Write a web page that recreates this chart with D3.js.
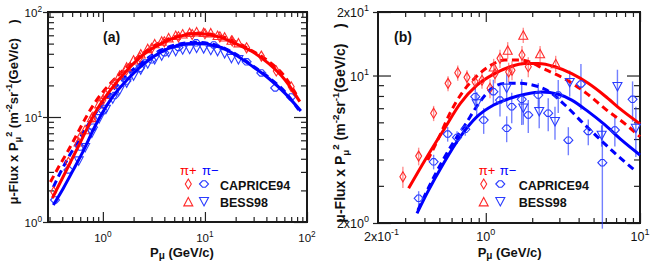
<!DOCTYPE html>
<html><head><meta charset="utf-8">
<script src="https://cdn.jsdelivr.net/npm/d3@7"></script>
<style>body{margin:0;background:#fff}svg{display:block}</style>
</head><body><svg id="c" width="654" height="261"></svg>
<script>
// ---------- Panel (a) model curves ----------
const aPosSolidP = [0.32,0.38,0.48,0.6,0.84,1.2,1.76,2.56,3.7,5.4,8.1,13.7,20,29,42,61,85];
const aPosSolidF = [1.69,2.35,3.7,5.7,11.0,18.3,28.5,40,50,58,62.5,58,50,42,32.4,22.5,14];
const aNegSolidP = [0.327,0.41,0.51,0.64,0.84,1.2,1.76,2.56,3.7,5.4,8.1,13.7,20,29,42,61,87];
const aNegSolidF = [1.45,2.1,3.1,4.7,8.2,14.8,23,32.5,41.5,48,50.3,46.7,39,30.5,23.4,16.8,11.4];
const aPosDashP = [0.306,0.366,0.447,0.547,0.67,0.84,1.22,1.75,2.56,3.74,5.6,8.2,13.7,20,28.6,41.8,61,81];
const aPosDashF = [2.4,3.3,4.6,6.6,9.6,13.8,21.5,30.5,41.5,52,59.5,63,59.5,52,43,34,24,15.5];
const aNegDashP = [0.327,0.383,0.458,0.56,0.715,0.935,1.22,1.75,2.56,3.74,5.6,8.2,13.7,20,28.6,41.8,61,83];
const aNegDashF = [2.15,2.95,4.1,5.7,8.4,12.5,17.5,25.5,34.5,43.5,49.5,51.5,47.3,39.8,31.3,24,17.3,11.7];
// ---------- Panel (a) data ----------
const aPosCapP = [0.33,0.46,0.6,0.8,1.0,1.3,1.7,2.3,3.0,4.0,5.5,7.5,10,14,18.5,25.6,35.7,50,70];
const aPosCapF = [1.94,3.7,6.4,10,14.5,21,28,37,45,52,58,61,62,58,53,45.6,38,27.4,19.4];
const aNegCapP = [0.34,0.46,0.6,0.8,1.0,1.3,1.7,2.3,3.0,4.0,5.5,8.2,12.2,25.6,35.7,48.8,69.8];
const aNegCapF = [1.62,3.13,5.18,8.0,11.5,16,22,29,35,41,46,50.9,48.6,33.5,26.3,18.9,15.5];
const aBessP = [0.58,0.67,0.78,0.92,1.07,1.25,1.46,1.71,2.0,2.35,2.75,3.22,3.77,4.41,5.17,6.05,7.08,8.29,9.71,11.4,13.3,15.6,18.2,21.3];
const aPosBessF = [5.8,7.6,9.9,13.4,16.5,20.5,25,30,35,40,45,50,53,57,60,62,64,65,64,63.5,60,58,54,51];
const aNegBessF = [3.8,5.1,7.0,9.6,11.8,14.8,18,21,24.5,28,32,35,38,41,42,43.5,44,45,44.5,43,42,40,36,35];
// ---------- Panel (b) model curves ----------
const bPosSolidP = [0.316,0.416,0.533,0.684,0.877,1.125,1.44,1.80,2.19,2.81,3.61,4.62,5.93,7.61,10];
const bPosSolidF = [2.92,4.12,5.52,7.38,9.0,10.15,11.0,11.4,11.4,11.0,10.2,9.18,8.0,6.85,5.9];
const bNegSolidP = [0.358,0.416,0.533,0.684,0.877,1.125,1.44,1.80,2.30,2.95,3.61,4.62,5.93,7.61,10];
const bNegSolidF = [2.22,2.77,3.84,5.13,6.38,7.25,7.8,8.15,8.35,8.15,7.65,6.74,5.83,4.94,4.20];
const bPosDashP = [0.42,0.505,0.586,0.70,0.85,1.06,1.33,1.67,2.48,3.35,4.5,6.08,8.19,10];
const bPosDashF = [3.97,5.22,6.63,8.26,9.73,11.1,11.85,11.85,10.6,9.52,8.23,6.86,5.82,5.13];
const bNegDashP = [0.363,0.434,0.528,0.631,0.733,0.877,1.065,1.33,1.67,2.03,2.48,3.26,4.28,5.25,6.38,7.8,9.5];
const bNegDashF = [2.30,3.03,3.98,4.95,5.83,7.17,8.54,9.18,9.18,9.0,8.54,7.25,5.94,5.15,4.5,3.95,3.5];
// ---------- Panel (b) data (value, +/- error) ----------
const bPosCapP = [0.290,0.367,0.459,0.569,0.658,0.755,0.851,0.945,1.065,1.147,1.236,1.407,1.479,1.717,1.886];
const bPosCapF = [3.31,4.15,6.63,9.18,10.3,9.8,9.35,9.5,8.7,10.2,12.06,10.4,10.6,12.5,11.0];
const bPosCapE = [0.38,0.4,0.55,0.75,0.85,0.8,0.8,0.85,0.9,1.0,1.2,1.1,1.1,1.3,1.2];
const bPosBessP = [1.125,1.387,1.75,2.25,2.84];
const bPosBessF = [11.0,13.2,15.56,12.7,11.4];
const bPosBessE = [1.0,1.2,1.3,1.1,1.0];
const bNegCapP = [0.367,0.459,0.566,0.651,0.736,0.855,0.969,1.12,1.236,1.366,1.473,1.71,1.886,2.19,2.54,2.95,3.43,4.14,4.62,5.70,6.87,8.95];
const bNegCapF = [2.62,3.90,5.28,5.09,5.56,7.94,6.15,8.38,7.65,5.62,7.11,7.71,6.5,8.08,6.63,8.08,4.94,9.12,5.43,3.86,5.52,7.71];
const bNegCapE = [0.21,0.31,0.42,0.35,0.38,0.91,0.86,1.17,1.26,0.79,1.17,1.88,1.16,1.13,1.18,1.44,0.75,2.23,0.76,1.98,0.91,1.67];
const bNegBessP = [0.873,1.366,1.75,2.22,2.81,3.5,5.64,7.14,9.4];
const bNegBessF = [7.33,8.7,7.0,6.74,6.04,9.25,5.2,8.85,5.61];
const bNegBessE = [1.03,1.55,1.16,1.11,1.08,1.3,0.6,1.8,1.5];
// ---------- ticks ----------
const aXMajor = [1,10,100], aXMinor = [0.3,0.4,0.5,0.6,0.7,0.8,0.9,2,3,4,5,6,7,8,9,20,30,40,50,60,70,80,90];
const aYMajor = [1,10,100], aYMinor = [2,3,4,5,6,7,8,9,20,30,40,50,60,70,80,90];
const aXLabels = [["10","0"],["10","1"],["10","2"]];
const aYLabels = [["10","0"],["10","1"],["10","2"]];
const bXMajor = [1,10], bXMinor = [0.3,0.4,0.5,0.6,0.7,0.8,0.9,2,3,4,5,6,7,8,9];
const bYMajor = [2,10,20], bYMinor = [3,4,5,6,7,8,9];
const bXLabels = [["2x10","-1"],["10","0"],["10","1"]];
const bXLabelVals = [0.2,1,10];
const bYLabels = [["2x10","0"],["10","1"],["2x10","1"]];
const legendSeries = ["CAPRICE94","BESS98"];

const FONT = "'Liberation Sans', Arial, Helvetica, sans-serif";
const RED = "#ff0000", BLUE = "#0000ff";
const RMK = "#ff2a2a", BMK = "#2a3cff";
const svg = d3.select("#c");

const xA = d3.scaleLog().domain([0.29,100]).range([48,307]);
const yA = d3.scaleLog().domain([1,100]).range([222,12]);
const xB = d3.scaleLog().domain([0.2,10]).range([378,640]);
const yB = d3.scaleLog().domain([2,20]).range([223,12]);

function sym(type, cx, cy){
  if(type==="rdiam"){const w=3,h=5;return `M${cx},${cy-h}L${cx+w},${cy}L${cx},${cy+h}L${cx-w},${cy}Z`;}
  if(type==="bdiam"){const w=4.5,h=3.2;return `M${cx-w},${cy}L${cx-1.5},${cy-h}L${cx+1.5},${cy-h}L${cx+w},${cy}L${cx+1.5},${cy+h}L${cx-1.5},${cy+h}Z`;}
  if(type==="up"){const w=4.5,h=4.2;return `M${cx},${cy-h}L${cx+w},${cy+h}L${cx-w},${cy+h}Z`;}
  if(type==="down"){const w=4.5,h=4.2;return `M${cx},${cy+h}L${cx+w},${cy-h}L${cx-w},${cy-h}Z`;}
}

function axes(x,y,xMaj,xMin,yMaj,yMin){
  const [L,R]=x.range(), [B,T]=y.range();
  const g=svg.append("g").attr("color","#222");
  const add=(axis,tr)=>g.append("g").attr("transform",tr).call(axis).call(s=>{s.select(".domain").remove();s.selectAll("text").remove();s.selectAll("line").attr("stroke-width",1.2);});
  add(d3.axisRight(y).tickValues(yMaj).tickSize(13).tickSizeOuter(0),`translate(${L},0)`);
  add(d3.axisRight(y).tickValues(yMin).tickSize(6).tickSizeOuter(0),`translate(${L},0)`);
  add(d3.axisLeft(y).tickValues(yMaj).tickSize(5).tickSizeOuter(0),`translate(${L},0)`);
  add(d3.axisLeft(y).tickValues(yMaj).tickSize(13).tickSizeOuter(0),`translate(${R},0)`);
  add(d3.axisLeft(y).tickValues(yMin).tickSize(6).tickSizeOuter(0),`translate(${R},0)`);
  add(d3.axisTop(x).tickValues(xMaj).tickSize(10).tickSizeOuter(0),`translate(0,${B})`);
  add(d3.axisTop(x).tickValues(xMin).tickSize(5).tickSizeOuter(0),`translate(0,${B})`);
  add(d3.axisBottom(x).tickValues(xMaj).tickSize(10).tickSizeOuter(0),`translate(0,${T})`);
  add(d3.axisBottom(x).tickValues(xMin).tickSize(5).tickSizeOuter(0),`translate(0,${T})`);
  svg.append("rect").attr("x",L).attr("y",T).attr("width",R-L).attr("height",B-T)
    .attr("fill","none").attr("stroke","#1a1a1a").attr("stroke-width",2);
}

function supLabel(x,y,lab,size,anchor){
  const t=svg.append("text").attr("x",x).attr("y",y).attr("font-family",FONT).attr("font-size",size)
    .attr("text-anchor",anchor).attr("fill","#111");
  t.append("tspan").text(lab[0]);
  t.append("tspan").attr("dy",-size*0.45).attr("font-size",size*0.72).text(lab[1]);
}

function curve(x,y,P,F,color,dash){
  const line=d3.line().x(d=>x(d[0])).y(d=>y(d[1])).curve(d3.curveMonotoneX);
  const p=svg.append("path").attr("d",line(d3.zip(P,F))).attr("fill","none")
    .attr("stroke",color).attr("stroke-width",3);
  if(dash) p.attr("stroke-dasharray","7,4.5");
}
function marks(x,y,P,F,type,color){
  svg.append("g").selectAll("path").data(d3.zip(P,F)).join("path")
    .attr("d",d=>sym(type,x(d[0]),y(d[1]))).attr("fill","none").attr("stroke",color).attr("stroke-width",1.1);
}
function errs(x,y,P,F,E,color){
  svg.append("g").selectAll("line").data(d3.zip(P,F,E)).join("line")
    .attr("x1",d=>x(d[0])).attr("x2",d=>x(d[0]))
    .attr("y1",d=>y(d[1]+d[2])).attr("y2",d=>y(Math.max(d[1]-d[2],1e-3)))
    .attr("stroke",color).attr("stroke-width",1.4);
}

function yTitle(tx,ty,size){
  const t=svg.append("text").attr("transform",`translate(${tx},${ty}) rotate(-90)`)
    .attr("text-anchor","middle").attr("font-family",FONT).attr("font-weight","bold")
    .attr("font-size",size).attr("fill","#111");
  const s=size*0.7;
  t.append("tspan").text("μ-Flux x P");
  t.append("tspan").attr("dy",size*0.25).attr("font-size",s).text("μ");
  t.append("tspan").attr("dy",-size*0.7).attr("font-size",s).text("2");
  t.append("tspan").attr("dy",size*0.45).text(" (m");
  t.append("tspan").attr("dy",-size*0.45).attr("font-size",s).text("-2");
  t.append("tspan").attr("dy",size*0.45).text("sr");
  t.append("tspan").attr("dy",-size*0.45).attr("font-size",s).text("-1");
  t.append("tspan").attr("dy",size*0.45).text("(GeV/c)\u00a0\u00a0\u00a0\u00a0)");
}
function xTitle(tx,ty){
  const t=svg.append("text").attr("x",tx).attr("y",ty).attr("font-family",FONT).attr("font-weight","bold")
    .attr("font-size",13).attr("fill","#111");
  t.append("tspan").text("P");
  t.append("tspan").attr("dy",1.5).attr("font-size",10).text("μ");
  t.append("tspan").attr("dy",-1.5).text("\u00a0(GeV/c)");
}
function legend(px,py,dx1,dx2,tx){
  svg.append("text").attr("x",px).attr("y",py).attr("font-family",FONT).attr("font-size",13).attr("fill",RED).text("π+");
  svg.append("text").attr("x",px+dx1).attr("y",py).attr("font-family",FONT).attr("font-size",13).attr("fill",BLUE).text("π−");
  const rows=[[py+9,"rdiam","bdiam"],[py+26.7,"up","down"]];
  rows.forEach((r,i)=>{
    svg.append("path").attr("d",sym(r[1],px+dx2[0],r[0])).attr("fill","none").attr("stroke",RMK).attr("stroke-width",1.1);
    svg.append("path").attr("d",sym(r[2],px+dx2[1],r[0])).attr("fill","none").attr("stroke",BMK).attr("stroke-width",1.1);
    svg.append("text").attr("x",tx).attr("y",r[0]+5.5).attr("font-family",FONT).attr("font-weight","bold")
      .attr("font-size",12.5).attr("fill","#111").text(legendSeries[i]);
  });
}

// ===== Panel (a) =====
axes(xA,yA,aXMajor,aXMinor,aYMajor,aYMinor);
aXMajor.forEach((v,i)=>supLabel(xA(v),242,aXLabels[i],11.5,"middle"));
aYMajor.forEach((v,i)=>supLabel(42,yA(v)+5,aYLabels[i],11.5,"end"));
curve(xA,yA,aPosDashP,aPosDashF,RED,true);
curve(xA,yA,aNegDashP,aNegDashF,BLUE,true);
marks(xA,yA,aBessP,aPosBessF,"up",RMK);
marks(xA,yA,aPosCapP,aPosCapF,"rdiam",RMK);
marks(xA,yA,aBessP,aNegBessF,"down",BMK);
marks(xA,yA,aNegCapP,aNegCapF,"bdiam",BMK);
curve(xA,yA,aPosSolidP,aPosSolidF,RED,false);
curve(xA,yA,aNegSolidP,aNegSolidF,BLUE,false);
svg.append("text").attr("x",103).attr("y",42).attr("font-family",FONT).attr("font-weight","bold").attr("font-size",14).attr("fill","#111").text("(a)");
legend(180,175,22,[8.3,24],220);
xTitle(150,257);
yTitle(18,112,13);

// ===== Panel (b) =====
axes(xB,yB,bXMajor,bXMinor,bYMajor,bYMinor);
bXLabelVals.forEach((v,i)=>{ if(i===0) supLabel(364,241,bXLabels[i],12.5,"start"); else supLabel(xB(v),241,bXLabels[i],12.5,"middle"); });
bYMajor.forEach((v,i)=>supLabel(369,yB(v)+5,bYLabels[i],12.5,"end"));
errs(xB,yB,bPosCapP,bPosCapF,bPosCapE,"rgba(255,70,70,0.6)");
errs(xB,yB,bPosBessP,bPosBessF,bPosBessE,"rgba(255,70,70,0.6)");
errs(xB,yB,bNegCapP,bNegCapF,bNegCapE,"rgba(40,60,255,0.65)");
errs(xB,yB,bNegBessP,bNegBessF,bNegBessE,"rgba(40,60,255,0.65)");
curve(xB,yB,bPosDashP,bPosDashF,RED,true);
curve(xB,yB,bNegDashP,bNegDashF,BLUE,true);
curve(xB,yB,bPosSolidP,bPosSolidF,RED,false);
curve(xB,yB,bNegSolidP,bNegSolidF,BLUE,false);
marks(xB,yB,bPosCapP,bPosCapF,"rdiam",RMK);
marks(xB,yB,bPosBessP,bPosBessF,"up",RMK);
marks(xB,yB,bNegCapP,bNegCapF,"bdiam",BMK);
marks(xB,yB,bNegBessP,bNegBessF,"down",BMK);
svg.append("text").attr("x",394).attr("y",42).attr("font-family",FONT).attr("font-weight","bold").attr("font-size",14).attr("fill","#111").text("(b)");
legend(478.7,175,21,[5,21.6],518.7);
xTitle(477.7,257);
yTitle(345,123,14);
</script></body></html>
